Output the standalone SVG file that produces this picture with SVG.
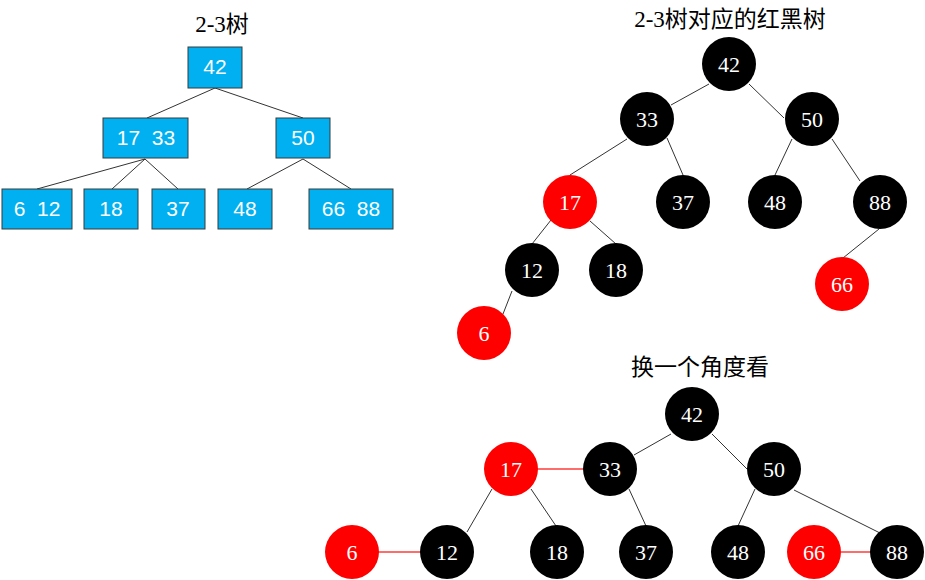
<svg xmlns="http://www.w3.org/2000/svg" width="925" height="580" viewBox="0 0 925 580">
<style>
.title{font-family:"Liberation Serif","Noto Sans CJK SC",serif;font-size:23px;fill:#000;text-anchor:middle}
.box rect{fill:#00B0F0;stroke:#3a3a3a;stroke-width:1}
.box text{font-family:"Liberation Sans",Arial,sans-serif;font-size:21px;fill:#fff;text-anchor:middle;white-space:pre}
.blk circle{fill:#000}
.red circle{fill:#FF0000}
.rb text{font-family:"Liberation Serif","Times New Roman",serif;font-size:22px;fill:#fff;text-anchor:middle}
.edge{stroke:#333;stroke-width:1;fill:none}
.redge{stroke:#FF3B3B;stroke-width:1.5;fill:none}
</style>
<rect width="925" height="580" fill="#fff"/>
<text class="title" x="222" y="32">2-3树</text>
<text class="title" x="730" y="27">2-3树对应的红黑树</text>
<text class="title" x="700" y="375">换一个角度看</text>
<g id="connectors">
<line class="edge" x1="215" y1="88" x2="147" y2="118"/>
<line class="edge" x1="215" y1="88" x2="303" y2="118"/>
<line class="edge" x1="145" y1="159" x2="37" y2="189"/>
<line class="edge" x1="145" y1="159" x2="112" y2="189"/>
<line class="edge" x1="145" y1="159" x2="178" y2="189"/>
<line class="edge" x1="303" y1="159" x2="247" y2="189"/>
<line class="edge" x1="303" y1="159" x2="351" y2="189"/>
<line class="edge" x1="709" y1="84" x2="671" y2="105"/>
<line class="edge" x1="749" y1="84" x2="784" y2="118"/>
<line class="edge" x1="627" y1="139" x2="570" y2="175"/>
<line class="edge" x1="667" y1="138" x2="683" y2="175"/>
<line class="edge" x1="792" y1="139" x2="775" y2="175"/>
<line class="edge" x1="832" y1="139" x2="860" y2="181"/>
<line class="edge" x1="551" y1="220" x2="532" y2="244"/>
<line class="edge" x1="590" y1="221" x2="616" y2="244"/>
<line class="edge" x1="879" y1="229" x2="843" y2="258"/>
<line class="edge" x1="512" y1="291" x2="503" y2="314"/>
<line class="edge" x1="671" y1="434" x2="634" y2="455"/>
<line class="edge" x1="712" y1="434" x2="747" y2="469"/>
<line class="edge" x1="492" y1="489" x2="467" y2="532"/>
<line class="edge" x1="531" y1="489" x2="556" y2="526"/>
<line class="edge" x1="629" y1="489" x2="646" y2="526"/>
<line class="edge" x1="755" y1="489" x2="738" y2="526"/>
<line class="edge" x1="794" y1="490" x2="882" y2="534"/>
<line class="redge" x1="537" y1="469" x2="583" y2="469"/>
<line class="redge" x1="378" y1="552" x2="421" y2="552"/>
<line class="redge" x1="841" y1="552" x2="871" y2="552"/>
</g>
<g id="b42" class="box"><rect x="188" y="47" width="54" height="41"/><text x="215" y="74">42</text></g>
<g id="b1733" class="box"><rect x="103" y="118" width="85" height="40"/><text x="146" y="145">17  33</text></g>
<g id="b50" class="box"><rect x="276" y="118" width="54" height="40"/><text x="303" y="145">50</text></g>
<g id="b612" class="box"><rect x="2" y="189" width="70" height="40"/><text x="37" y="216">6  12</text></g>
<g id="b18" class="box"><rect x="84" y="189" width="54" height="40"/><text x="111" y="216">18</text></g>
<g id="b37" class="box"><rect x="152" y="189" width="53" height="40"/><text x="178" y="216">37</text></g>
<g id="b48" class="box"><rect x="218" y="189" width="54" height="40"/><text x="245" y="216">48</text></g>
<g id="b6688" class="box"><rect x="309" y="189" width="84" height="40"/><text x="351" y="216">66  88</text></g>
<g id="r42" class="rb blk"><circle cx="729" cy="64" r="27"/><text x="729" y="71.5">42</text></g>
<g id="r33" class="rb blk"><circle cx="647" cy="119" r="27"/><text x="647" y="126.5">33</text></g>
<g id="r50" class="rb blk"><circle cx="812" cy="119" r="27"/><text x="812" y="126.5">50</text></g>
<g id="r17" class="rb red"><circle cx="570" cy="202" r="27"/><text x="570" y="209.5">17</text></g>
<g id="r37" class="rb blk"><circle cx="683" cy="202" r="27"/><text x="683" y="209.5">37</text></g>
<g id="r48" class="rb blk"><circle cx="775" cy="202" r="27"/><text x="775" y="209.5">48</text></g>
<g id="r88" class="rb blk"><circle cx="880" cy="202" r="27"/><text x="880" y="209.5">88</text></g>
<g id="r12" class="rb blk"><circle cx="532" cy="270" r="27"/><text x="532" y="277.5">12</text></g>
<g id="r18" class="rb blk"><circle cx="616" cy="270" r="27"/><text x="616" y="277.5">18</text></g>
<g id="r66" class="rb red"><circle cx="842" cy="284" r="27"/><text x="842" y="291.5">66</text></g>
<g id="r6" class="rb red"><circle cx="484" cy="333" r="27"/><text x="484" y="340.5">6</text></g>
<g id="v42" class="rb blk"><circle cx="692" cy="414" r="27"/><text x="692" y="421.5">42</text></g>
<g id="v17" class="rb red"><circle cx="511" cy="469" r="27"/><text x="511" y="476.5">17</text></g>
<g id="v33" class="rb blk"><circle cx="610" cy="469" r="27"/><text x="610" y="476.5">33</text></g>
<g id="v50" class="rb blk"><circle cx="774" cy="469" r="27"/><text x="774" y="476.5">50</text></g>
<g id="v6" class="rb red"><circle cx="352" cy="552" r="27"/><text x="352" y="559.5">6</text></g>
<g id="v12" class="rb blk"><circle cx="447" cy="552" r="27"/><text x="447" y="559.5">12</text></g>
<g id="v18" class="rb blk"><circle cx="557" cy="552" r="27"/><text x="557" y="559.5">18</text></g>
<g id="v37" class="rb blk"><circle cx="646" cy="552" r="27"/><text x="646" y="559.5">37</text></g>
<g id="v48" class="rb blk"><circle cx="738" cy="552" r="27"/><text x="738" y="559.5">48</text></g>
<g id="v66" class="rb red"><circle cx="814" cy="552" r="27"/><text x="814" y="559.5">66</text></g>
<g id="v88" class="rb blk"><circle cx="897" cy="552" r="27"/><text x="897" y="559.5">88</text></g>
</svg>
